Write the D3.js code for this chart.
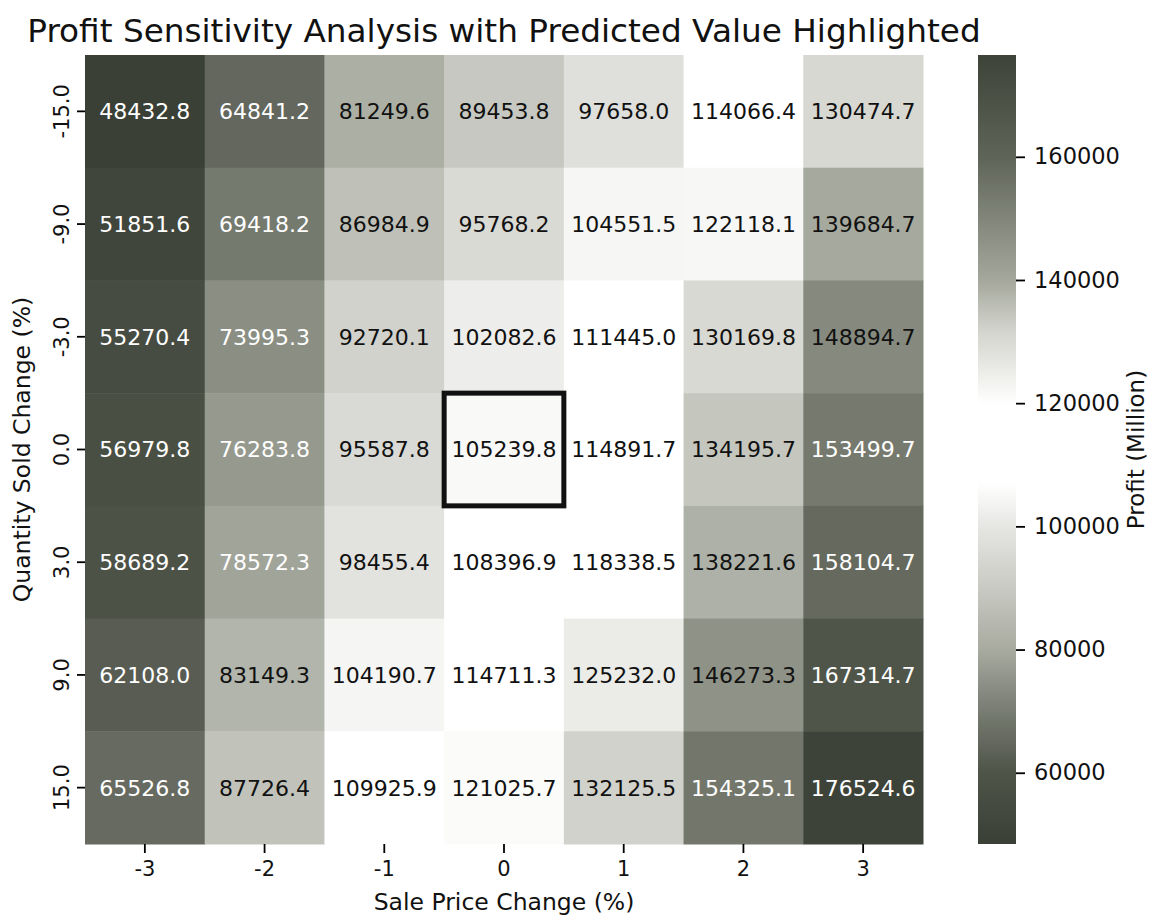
<!DOCTYPE html>
<html lang="en">
<head>
<meta charset="utf-8">
<title>Profit Sensitivity Heatmap</title>
<script src="https://d3js.org/d3.v7.min.js"></script>
<style>
	body { margin: 0; background: #fff; }
	svg text { font-family: "DejaVu Sans", sans-serif; fill: #111; }
</style>
</head>
<body>
<div id="chart"></div>
<script>
	// Data
	var priceChanges = [-3, -2, -1, 0, 1, 2, 3];
	var qtyChanges = ["-15.0", "-9.0", "-3.0", "0.0", "3.0", "9.0", "15.0"];
	var profits = [
		[48432.8, 64841.2, 81249.6, 89453.8, 97658.0, 114066.4, 130474.7],
		[51851.6, 69418.2, 86984.9, 95768.2, 104551.5, 122118.1, 139684.7],
		[55270.4, 73995.3, 92720.1, 102082.6, 111445.0, 130169.8, 148894.7],
		[56979.8, 76283.8, 95587.8, 105239.8, 114891.7, 134195.7, 153499.7],
		[58689.2, 78572.3, 98455.4, 108396.9, 118338.5, 138221.6, 158104.7],
		[62108.0, 83149.3, 104190.7, 114711.3, 125232.0, 146273.3, 167314.7],
		[65526.8, 87726.4, 109925.9, 121025.7, 132125.5, 154325.1, 176524.6]
	];
	var colorbarTicks = [60000, 80000, 100000, 120000, 140000, 160000];
	var highlight = {price: 0, qty: "0.0"};

	var svgWidth = 1153, svgHeight = 924,
		plotLeft = 85, plotRight = 923, plotTop = 55, plotBottom = 844;

	var svg = d3.select("#chart").append("svg")
		.attr("width", svgWidth)
		.attr("height", svgHeight);

	var x = d3.scaleBand().domain(priceChanges).range([plotLeft, plotRight]);
	var y = d3.scaleBand().domain(qtyChanges).range([plotTop, plotBottom]);

	var flat = [];
	profits.forEach(function(row, i) {
		row.forEach(function(v, j) {
			flat.push({qty: qtyChanges[i], price: priceChanges[j], value: v});
		});
	});
	var vmin = d3.min(flat, function(d) { return d.value; }),
		vmax = d3.max(flat, function(d) { return d.value; });

	// grey diverging map: dark at both ends, white in the middle
	var color = d3.scaleLinear()
		.domain([vmin, 60000, 72000, 80000, 90000, 100000, 107000, 120000, 126000, 132000, 140000, 150000, 160000, vmax])
		.range(["#3b4037", "#4f5449", "#80847a", "#a8aba0", "#c9cac3", "#e6e6e3", "#ffffff",
			"#ffffff", "#e8e8e4", "#d2d3cc", "#a4a79c", "#82867a", "#5f6458", "#3e4339"]);

	// cells
	svg.append("g").selectAll("rect")
		.data(flat)
		.enter().append("rect")
		.attr("x", function(d) { return x(d.price); })
		.attr("y", function(d) { return y(d.qty); })
		.attr("width", x.bandwidth() + 0.5)
		.attr("height", y.bandwidth() + 0.5)
		.attr("fill", function(d) { return color(d.value); });

	// annotations
	svg.append("g").selectAll("text")
		.data(flat)
		.enter().append("text")
		.attr("x", function(d) { return x(d.price) + x.bandwidth() / 2; })
		.attr("y", function(d) { return y(d.qty) + y.bandwidth() / 2; })
		.attr("dy", "0.36em")
		.attr("text-anchor", "middle")
		.style("font-size", "22px")
		.style("fill", function(d) { return (d.value < 80000 || d.value > 150000) ? "#ffffff" : "#111111"; })
		.text(function(d) { return d.value.toFixed(1); });

	// predicted value box
	svg.append("rect")
		.attr("x", x(highlight.price))
		.attr("y", y(highlight.qty))
		.attr("width", x.bandwidth())
		.attr("height", y.bandwidth())
		.attr("fill", "none")
		.attr("stroke", "#111")
		.attr("stroke-width", 5);

	// axes
	var xAxis = svg.append("g")
		.attr("transform", "translate(0," + plotBottom + ")")
		.call(d3.axisBottom(x).tickSize(9).tickPadding(8));
	xAxis.select(".domain").remove();
	xAxis.selectAll("text").style("font-size", "21px").style("font-family", "DejaVu Sans");
	xAxis.selectAll("line").attr("stroke-width", 1.8);

	var yAxis = svg.append("g")
		.attr("transform", "translate(" + plotLeft + ",0)")
		.call(d3.axisLeft(y).tickSize(8).tickPadding(6));
	yAxis.select(".domain").remove();
	yAxis.selectAll("line").attr("stroke-width", 1.8);
	yAxis.selectAll("text")
		.style("font-size", "21px")
		.style("font-family", "DejaVu Sans")
		.attr("text-anchor", "middle")
		.attr("x", 0).attr("dy", 0)
		.attr("transform", "translate(-16,0) rotate(-90)");

	// titles
	svg.append("text")
		.attr("x", 504)
		.attr("y", 42)
		.attr("text-anchor", "middle")
		.style("font-size", "32.7px")
		.text("Profit Sensitivity Analysis with Predicted Value Highlighted");

	svg.append("text")
		.attr("x", (plotLeft + plotRight) / 2)
		.attr("y", 910)
		.attr("text-anchor", "middle")
		.style("font-size", "23.5px")
		.text("Sale Price Change (%)");

	svg.append("text")
		.attr("transform", "translate(30," + ((plotTop + plotBottom) / 2) + ") rotate(-90)")
		.attr("text-anchor", "middle")
		.style("font-size", "23.5px")
		.text("Quantity Sold Change (%)");

	// colorbar
	var cbX = 978, cbW = 38;
	var cbScale = d3.scaleLinear().domain([vmin, vmax]).range([plotBottom, plotTop]);

	var grad = svg.append("defs").append("linearGradient")
		.attr("id", "cbgrad")
		.attr("x1", 0).attr("y1", 1).attr("x2", 0).attr("y2", 0);
	d3.range(0, 1.0001, 0.01).forEach(function(t) {
		grad.append("stop")
			.attr("offset", t)
			.attr("stop-color", color(vmin + t * (vmax - vmin)));
	});

	svg.append("rect")
		.attr("x", cbX).attr("y", plotTop)
		.attr("width", cbW).attr("height", plotBottom - plotTop)
		.attr("fill", "url(#cbgrad)");

	var cbAxis = svg.append("g")
		.attr("transform", "translate(" + (cbX + cbW) + ",0)")
		.call(d3.axisRight(cbScale).tickValues(colorbarTicks).tickFormat(d3.format("d")).tickSize(9).tickPadding(9));
	cbAxis.select(".domain").remove();
	cbAxis.selectAll("line").attr("stroke-width", 1.8);
	cbAxis.selectAll("text").style("font-size", "22.5px").style("font-family", "DejaVu Sans");

	svg.append("text")
		.attr("transform", "translate(1144," + ((plotTop + plotBottom) / 2) + ") rotate(-90)")
		.attr("text-anchor", "middle")
		.style("font-size", "23px")
		.text("Profit (Million)");
</script>
</body>
</html>
